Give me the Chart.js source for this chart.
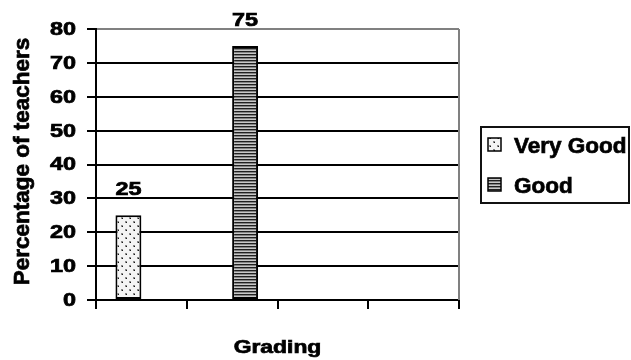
<!DOCTYPE html>
<html lang="en">
<head>
  <meta charset="UTF-8">
  <title>Percentage of teachers by grading</title>
  <script src="https://cdn.jsdelivr.net/npm/chart.js"></script>
  <style>
    html, body { margin: 0; padding: 0; background: #fff; }
    canvas { display: block; }
  </style>
</head>
<body>
  <canvas id="gradingChart" width="631" height="360"></canvas>

  <script>
    // Data
    const categories = ['', '', '', ''];
    const seriesNames = ['Very Good', 'Good'];
    const veryGoodValues = [25, null, null, null];
    const goodValues = [null, 75, null, null];
    const yTicks = [0, 10, 20, 30, 40, 50, 60, 70, 80];
    const xTitle = 'Grading';
    const yTitle = 'Percentage of teachers';

    const ctx = document.getElementById('gradingChart').getContext('2d');
    const ARIAL = '"Liberation Sans", Arial, sans-serif';

    // fill patterns like the old Excel ones
    function dotPattern() {
      const c = document.createElement('canvas');
      c.width = 8; c.height = 8;
      const g = c.getContext('2d');
      g.fillStyle = '#f4f4f4';
      g.fillRect(0, 0, 8, 8);
      g.fillStyle = '#8a8a8a';
      g.fillRect(1, 1, 2, 2);
      g.fillRect(5, 5, 2, 2);
      g.fillStyle = '#1a1a1a';
      g.fillRect(2, 2, 1, 1);
      g.fillRect(6, 6, 1, 1);
      return ctx.createPattern(c, 'repeat');
    }

    function stripePattern() {
      const c = document.createElement('canvas');
      c.width = 4; c.height = 3;
      const g = c.getContext('2d');
      g.fillStyle = '#202020';
      g.fillRect(0, 0, 4, 1);
      g.fillStyle = '#848484';
      g.fillRect(0, 1, 4, 1);
      g.fillStyle = '#c8c8c8';
      g.fillRect(0, 2, 4, 1);
      return ctx.createPattern(c, 'repeat');
    }

    const fills = [dotPattern(), stripePattern()];

    // text in the picture is a heavy, slightly wide Arial bold
    function heavyText(c, text, x, y, opts) {
      c.save();
      c.translate(x, y);
      if (opts.rotate) c.rotate(opts.rotate);
      c.scale(opts.sx || 1, 1);
      c.font = 'bold ' + opts.size + 'px ' + ARIAL;
      c.fillStyle = '#000';
      c.strokeStyle = '#000';
      c.lineWidth = 0.7;
      c.textAlign = opts.align || 'left';
      c.textBaseline = opts.baseline || 'alphabetic';
      c.fillText(text, 0, 0);
      c.strokeText(text, 0, 0);
      c.restore();
    }

    Chart.defaults.color = '#000';
    Chart.defaults.font.family = ARIAL;
    Chart.defaults.font.weight = 'bold';

    const extras = {
      id: 'extras',
      beforeDatasetsDraw(chart) {
        // gray plot frame on the right
        const a = chart.chartArea;
        const c = chart.ctx;
        c.save();
        c.strokeStyle = '#808080';
        c.lineWidth = 2;
        c.beginPath();
        c.moveTo(Math.round(a.right), a.top);
        c.lineTo(Math.round(a.right), a.bottom);
        c.stroke();
        c.restore();
      },
      afterDatasetsDraw(chart) {
        const c = chart.ctx;
        // value labels over the bars
        chart.data.datasets.forEach((ds, i) => {
          chart.getDatasetMeta(i).data.forEach((bar, j) => {
            const v = ds.data[j];
            if (v === null || v === undefined) return;
            heavyText(c, String(v), bar.x, bar.y - 20, { size: 18, sx: 1.3, align: 'center' });
          });
        });
      },
      afterDraw(chart) {
        const a = chart.chartArea;
        const c = chart.ctx;
        const ys = chart.scales.y;

        // y tick labels
        ys.ticks.forEach(t => {
          heavyText(c, String(t.value), ys.right - 20, ys.getPixelForValue(t.value) + 1,
            { size: 18, sx: 1.3, align: 'right', baseline: 'middle' });
        });

        // axis titles
        heavyText(c, xTitle, (a.left + a.right) / 2, 353, { size: 18, sx: 1.27, align: 'center' });
        heavyText(c, yTitle, 23, (a.top + a.bottom) / 2 - 3,
          { size: 22.5, align: 'center', baseline: 'middle', rotate: -Math.PI / 2 });

        // boxed legend
        const w = 148, h = 76;
        const left = Math.round(a.right) + 22;
        const top = Math.round((a.top + a.bottom) / 2) - h / 2;
        c.save();
        c.strokeStyle = '#111';
        c.lineWidth = 2;
        c.strokeRect(left, top, w, h);
        c.restore();
        chart.data.datasets.forEach((ds, i) => {
          const base = top + 26 + i * 40;
          c.save();
          c.fillStyle = ds.backgroundColor;
          c.fillRect(left + 7, base - 15, 13, 13);
          c.strokeStyle = '#000';
          c.lineWidth = 1.5;
          c.strokeRect(left + 7, base - 15, 13, 13);
          c.restore();
          heavyText(c, ds.label, left + 33, base, { size: 22.5 });
        });
      }
    };

    const gradingChart = new Chart(ctx, {
      type: 'bar',
      data: {
        labels: categories,
        datasets: [
          {
            label: seriesNames[0],
            data: veryGoodValues,
            backgroundColor: fills[0],
            borderColor: '#000',
            borderWidth: 2,
            borderSkipped: false
          },
          {
            label: seriesNames[1],
            data: goodValues,
            backgroundColor: fills[1],
            borderColor: '#000',
            borderWidth: 2,
            borderSkipped: false
          }
        ]
      },
      options: {
        responsive: false,
        animation: false,
        events: [],
        categoryPercentage: 2 / 3.5,
        barPercentage: 1,
        layout: { padding: { left: 0, top: 29, right: 172, bottom: 0 } },
        plugins: {
          legend: { display: false },
          tooltip: { enabled: false }
        },
        scales: {
          x: {
            offset: true,
            afterFit(scale) { scale.height = 60; },
            grid: {
              offset: true,
              drawOnChartArea: false,
              drawTicks: true,
              tickLength: 9,
              tickColor: '#000',
              lineWidth: 2
            },
            border: { color: '#000', width: 2 },
            ticks: { display: false }
          },
          y: {
            min: yTicks[0],
            max: yTicks[yTicks.length - 1],
            afterFit(scale) { scale.width = 96; },
            afterBuildTicks(scale) {
              scale.ticks = yTicks.map(v => ({ value: v }));
            },
            grid: {
              color: c => (c.tick && c.tick.value === yTicks[yTicks.length - 1]) ? '#808080' : '#000',
              tickColor: '#000',
              lineWidth: 2,
              tickLength: 9
            },
            border: { color: '#000', width: 2 },
            ticks: { display: false }
          }
        }
      },
      plugins: [extras]
    });
  </script>
</body>
</html>
